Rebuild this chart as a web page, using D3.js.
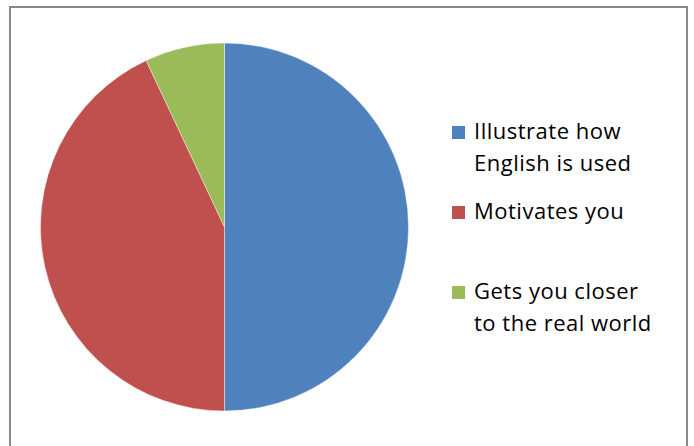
<!DOCTYPE html>
<html>
<head>
<meta charset="utf-8">
<script src="https://cdn.jsdelivr.net/npm/d3@7"></script>
<style>
  html, body { margin: 0; padding: 0; background: #fff; }
  svg { display: block; }
  text { font-family: "Open Sans", "Liberation Sans", sans-serif; }
</style>
</head>
<body>
<svg id="chart" width="694" height="446"></svg>
<script>
// Survey answers and their shares (percent)
const categories = [
  "Illustrate how English is used",
  "Motivates you",
  "Gets you closer to the real world"
];
const values = [50, 43, 7];
const colors = ["#4F81BD", "#C0504D", "#9BBB59"];
// Legend text broken into lines as displayed
const legendLines = [
  ["Illustrate how", "English is used"],
  ["Motivates you"],
  ["Gets you closer", "to the real world"]
];
// Baseline of the first line of each legend entry
const legendRows = [139, 219, 299];

const svg = d3.select("#chart");
const W = 694, H = 446;

// Chart area frame
svg.append("rect")
  .attr("x", 10).attr("y", 7)
  .attr("width", 677).attr("height", H + 20)
  .attr("fill", "#fff")
  .attr("stroke", "#898989")
  .attr("stroke-width", 2);

// Pie
const cx = 224.5, cy = 227, radius = 184;
const data = categories.map((c, i) => ({ name: c, value: values[i], color: colors[i] }));
const pie = d3.pie().sort(null).value(d => d.value);
const arc = d3.arc().innerRadius(0).outerRadius(radius);

svg.append("g")
  .attr("transform", `translate(${cx},${cy})`)
  .selectAll("path")
  .data(pie(data))
  .join("path")
  .attr("d", arc)
  .attr("fill", d => d.data.color)
  .attr("stroke", "#ffffff")
  .attr("stroke-width", 0.4);

// Legend
const lineGap = 32;
const legend = svg.append("g");
data.forEach((d, i) => {
  const base = legendRows[i];
  legend.append("rect")
    .attr("x", 452).attr("y", base - 13)
    .attr("width", 13).attr("height", 13)
    .attr("fill", d.color);
  const t = legend.append("text")
    .attr("x", 474).attr("y", base)
    .attr("font-size", 22)
    .attr("letter-spacing", 0.5)
    .attr("fill", "#000");
  legendLines[i].forEach((ln, j) => {
    t.append("tspan").attr("x", 474).attr("y", base + j * lineGap).text(ln);
  });
});
</script>
</body>
</html>
